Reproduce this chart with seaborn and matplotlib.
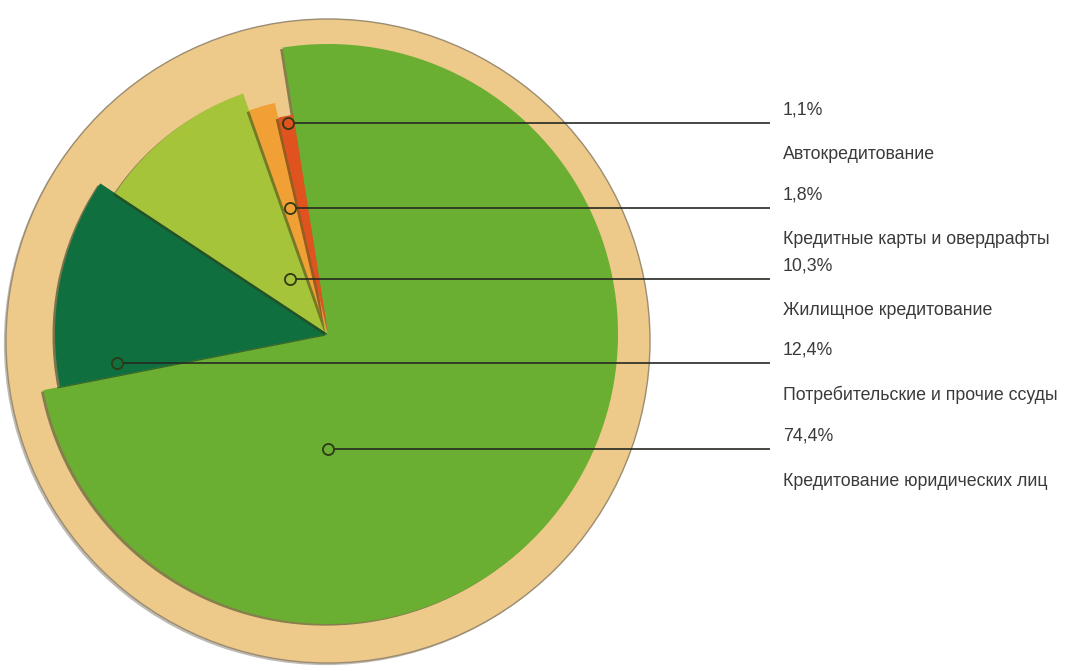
import matplotlib
matplotlib.use('Agg')
import numpy as np
import matplotlib.pyplot as plt
import matplotlib.patheffects as pe
from matplotlib.patches import Circle
import seaborn as sns

# ---- data ----
categories = ['Кредитование юридических лиц', 'Потребительские и прочие ссуды',
              'Жилищное кредитование', 'Кредитные карты и овердрафты', 'Автокредитование']
shares = [74.4, 12.4, 10.3, 1.8, 1.1]
share_labels = ['74,4%', '12,4%', '10,3%', '1,8%', '1,1%']

# ---- layout / style ----
W, H = 1077, 671
colors = ['#6aae32', '#0f6f3f', '#a6c43a', '#f0a034', '#e0521e']
radii = [290, 273, 255, 237, 222]
pie_center = (328, H - 334)
plate_center = (328, H - 341)
plate_radius = 322
# leader anchor points: angle (deg) and distance (px) from pie centre
anchor_angle = [270.0, 187.8, 124.6, 106.8, 100.6]
anchor_dist = [115, 213, 67, 132, 215]
line_end_x = 770
text_x = 783

sns.set_theme(style='white')
plt.rcParams['font.family'] = ['DejaVu Sans Condensed', 'Liberation Sans', 'DejaVu Sans']

fig = plt.figure(figsize=(W / 100, H / 100), dpi=100)
ax = fig.add_axes([0, 0, 1, 1])

plate = Circle(plate_center, plate_radius, facecolor='#edc98a', edgecolor='#9c8c72',
               linewidth=1.0, zorder=0)
plate.set_path_effects([pe.SimplePatchShadow(offset=(-1.5, -1.5), alpha=0.35), pe.Normal()])
ax.add_patch(plate)

wedges, _ = ax.pie(shares, colors=colors, startangle=99, counterclock=False,
                   center=pie_center, radius=radii[0],
                   wedgeprops=dict(linewidth=0), frame=True)
for w, r in zip(wedges, radii):
    w.set_radius(r)
    w.set_zorder(2)
    w.set_path_effects([pe.SimplePatchShadow(offset=(-1.8, -1.2), alpha=0.5), pe.Normal()])

for ang, dist, col, pct, name in zip(anchor_angle, anchor_dist, colors, share_labels, categories):
    x = pie_center[0] + dist * np.cos(np.radians(ang))
    y = pie_center[1] + dist * np.sin(np.radians(ang))
    ax.plot([x, line_end_x], [y, y], color='#262922', linewidth=1.2, zorder=3,
            solid_capstyle='butt')
    ax.plot([x], [y], marker='o', markersize=8, markerfacecolor=col,
            markeredgecolor='#2e3a14', markeredgewidth=1.3, zorder=4)
    ax.text(text_x, y + 13, pct, fontsize=12.8, color='#3a3a3a', va='center', ha='left')
    ax.text(text_x, y - 32, name, fontsize=12.8, color='#3a3a3a', va='center', ha='left')

ax.set_xlim(0, W)
ax.set_ylim(0, H)
ax.set_aspect('equal')
ax.axis('off')

fig.savefig('out.png', dpi=100, facecolor='white')
